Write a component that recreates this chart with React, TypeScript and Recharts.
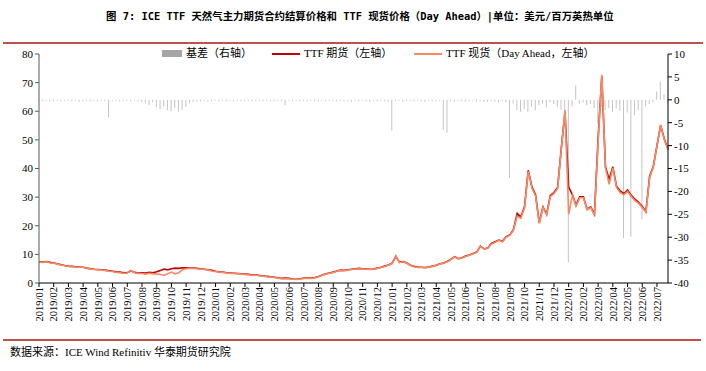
import React from 'react';
import { ComposedChart, Bar, Line, XAxis, YAxis } from 'recharts';

// month tick labels (one tick per month)
const monthLabels = [
  '2019/01', '2019/02', '2019/03', '2019/04', '2019/05', '2019/06', '2019/07', '2019/08', '2019/09', '2019/10', '2019/11', '2019/12',
  '2020/01', '2020/02', '2020/03', '2020/04', '2020/05', '2020/06', '2020/07', '2020/08', '2020/09', '2020/10', '2020/11', '2020/12',
  '2021/01', '2021/02', '2021/03', '2021/04', '2021/05', '2021/06', '2021/07', '2021/08', '2021/09', '2021/10', '2021/11', '2021/12',
  '2022/01', '2022/02', '2022/03', '2022/04', '2022/05', '2022/06', '2022/07',
];

// weekly samples, 4 per month
const futures = [
  7.4, 7.3, 7.5, 7.2, 7.0, 6.7, 6.4, 6.1, 5.9, 5.8, 5.7, 5.6, 5.5, 5.2, 5.0, 4.8, 4.7, 4.6, 4.5, 4.3, 4.1, 3.9, 3.8, 3.6,
  3.6, 4.3, 3.7, 3.5, 3.6, 3.5, 3.7, 3.6, 3.9, 4.4, 4.9, 4.6, 5.0, 5.2, 5.1, 5.3, 5.3, 5.2, 5.3, 5.1, 5.0, 4.8, 4.6, 4.4,
  4.1, 3.9, 3.8, 3.6, 3.5, 3.4, 3.3, 3.2, 3.1, 3.0, 2.8, 2.9, 2.6, 2.5, 2.3, 2.2, 2.0, 1.8, 1.6, 1.7, 1.6, 1.4, 1.3, 1.5,
  1.7, 1.8, 1.7, 1.9, 2.3, 2.8, 3.2, 3.5, 3.8, 4.2, 4.5, 4.4, 4.6, 4.8, 5.0, 5.1, 5.0, 4.9, 4.8, 4.9, 5.2, 5.5, 5.9, 6.3,
  6.9, 9.3, 7.2, 7.5, 7.0, 6.2, 5.8, 5.5, 5.5, 5.4, 5.6, 5.9, 6.2, 6.7, 7.0, 7.5, 8.3, 9.2, 8.5, 8.8, 9.4, 9.8, 10.3, 10.8,
  12.9, 11.9, 12.2, 13.8, 14.4, 15.0, 14.6, 16.2, 16.8, 18.7, 24.3, 23.0, 26.8, 39.4, 33.6, 30.8, 21.0, 26.6, 24.0, 30.6,
  31.6, 33.4, 47.2, 59.6, 33.5, 30.9, 27.2, 30.1, 30.1, 25.8, 26.6, 24.0, 50.5, 72.2, 40.6, 36.2, 40.6, 33.8, 32.2, 31.2,
  32.5, 30.6, 29.3, 28.2, 26.7, 25.0, 37.2, 40.7, 48.0, 55.1, 50.3, 46.8,
];

const spot = [
  7.3, 7.2, 7.4, 7.1, 6.9, 6.6, 6.3, 6.0, 5.8, 5.7, 5.6, 5.5, 5.6, 5.1, 4.9, 4.7, 4.6, 4.5, 4.4, 4.1, 4.0, 3.7, 3.6, 3.4,
  3.5, 4.4, 3.6, 3.3, 3.3, 3.1, 3.4, 3.2, 3.2, 3.0, 2.7, 3.2, 3.8, 3.2, 3.6, 4.6, 5.0, 5.1, 5.2, 5.0, 4.9, 4.7, 4.5, 4.2,
  4.0, 3.8, 3.7, 3.5, 3.4, 3.3, 3.2, 3.1, 3.0, 2.9, 2.7, 2.8, 2.5, 2.4, 2.2, 2.1, 1.9, 1.7, 1.5, 1.5, 1.5, 1.3, 1.2, 1.4,
  1.6, 1.7, 1.6, 1.8, 2.2, 2.7, 3.1, 3.4, 3.7, 4.1, 4.4, 4.3, 4.5, 4.7, 4.9, 5.0, 4.9, 4.8, 4.7, 4.8, 5.1, 5.4, 5.8, 6.2,
  6.8, 9.5, 7.1, 7.4, 6.9, 6.1, 5.7, 5.4, 5.4, 5.3, 5.5, 5.8, 6.1, 6.6, 6.9, 7.4, 8.2, 9.1, 8.4, 8.7, 9.3, 9.7, 10.2, 10.7,
  12.8, 11.8, 12.1, 13.6, 14.2, 14.9, 14.4, 16.0, 16.6, 18.5, 23.4, 22.6, 26.3, 39.0, 33.2, 30.4, 20.8, 26.4, 23.8, 30.2,
  31.2, 33.0, 46.8, 60.4, 24.0, 30.6, 26.8, 29.8, 29.8, 25.6, 26.3, 23.6, 49.0, 72.7, 40.2, 34.5, 40.2, 33.4, 31.6, 30.8,
  32.0, 30.2, 28.8, 27.8, 26.4, 24.7, 36.8, 40.4, 47.8, 55.2, 50.0, 46.5,
];

const basis = [
  -0.2, -0.3, -0.2, -0.3, -0.3, -0.2, -0.3, -0.2, -0.2, -0.3, -0.2, -0.4, -0.3, -0.2, -0.3, -0.2, -0.3, -0.2, -0.3, -3.8, -0.3, -0.2, -0.3, -0.2,
  -0.2, -0.3, -0.2, -0.3, -0.4, -0.8, -1.2, -0.6, -1.6, -2.0, -1.4, -2.2, -2.5, -1.8, -2.6, -2.2, -1.5, -0.8, -0.5, -0.3, -0.3, -0.2, -0.4, -0.3,
  -0.2, -0.3, -0.2, -0.3, -0.2, -0.3, -0.2, -0.3, -0.3, -0.2, -0.3, -0.2, -0.2, -0.3, -0.2, -0.3, -0.3, -0.2, -0.3, -1.2, -0.2, -0.3, -0.2, -0.3,
  -0.2, -0.3, -0.2, -0.3, -0.3, -0.2, -0.3, -0.2, -0.2, -0.3, -0.2, -0.3, -0.3, -0.4, -0.2, -0.3, -0.2, -0.3, -0.4, -0.2, -0.3, -0.2, -0.3, -0.4,
  -6.7, -0.3, -0.2, -0.4, -0.3, -0.2, -0.3, -0.2, -0.3, -0.4, -0.2, -0.3, -0.3, -0.2, -6.6, -7.2, -0.3, -0.4, -0.2, -0.3, -0.4, -0.3, -0.2, -0.4,
  -0.3, -0.5, -0.4, -0.3, -0.4, -0.6, -0.3, -0.5, -17.1, -0.8, -2.2, -2.6, -2.0, -2.7, -1.5, -2.3, -1.2, -0.8, -1.6, -0.6,
  -0.9, -1.5, -2.2, -5.0, -35.4, -1.5, 3.2, -0.8, -0.6, -1.2, -0.9, -1.8, -5.1, -1.5, -2.2, -1.8, -2.6, -1.9, -2.4, -30.2,
  -2.8, -29.9, -3.4, -2.2, -26.1, -1.4, -0.9, -0.5, 1.8, 4.0, 1.2, -0.6,
];

const data = futures.map((f, i) => ({ t: i / 4, futures: f, spot: spot[i], basis: basis[i] }));

const serif = '"Liberation Serif", "Times New Roman", "Noto Sans CJK SC", serif';
const titleFont = '"DejaVu Sans Mono", "Noto Sans CJK SC", sans-serif';

const MonthTick = ({ x, y, payload }: any) => (
  <g transform={`translate(${x},${y - 2})`}>
    <text transform="rotate(-90)" textAnchor="end" dy="0.35em" fontSize={10.5} fontFamily={serif} fill="#000">
      {monthLabels[payload.value]}
    </text>
  </g>
);

export default function App() {
  return (
    <div style={{ position: 'absolute', left: 0, top: 0, width: 706, height: 371, background: '#fff', overflow: 'hidden' }}>
      <div style={{ position: 'absolute', left: 106, top: 8, fontSize: 10.4, fontWeight: 'bold', fontFamily: titleFont, whiteSpace: 'nowrap', lineHeight: '16px', color: '#000' }}>
        图 7: ICE TTF 天然气主力期货合约结算价格和 TTF 现货价格（Day Ahead）|单位：美元/百万英热单位
      </div>
      <div style={{ position: 'absolute', left: 3, top: 42, width: 700, height: 2, background: '#C0504D' }} />

      <div style={{ position: 'absolute', left: 0, top: 0 }}>
        <ComposedChart width={706} height={371} data={data} margin={{ top: 54, right: 0, bottom: 0, left: 0 }}>
          <XAxis
            type="number"
            dataKey="t"
            domain={[0, 42.75]}
            ticks={monthLabels.map((_, i) => i)}
            interval={0}
            height={88}
            tickSize={4}
            tickLine={{ stroke: '#000' }}
            axisLine={{ stroke: '#000' }}
            tick={<MonthTick />}
          />
          <YAxis
            yAxisId="left"
            domain={[0, 80]}
            ticks={[0, 10, 20, 30, 40, 50, 60, 70, 80]}
            width={39}
            tickSize={4}
            axisLine={{ stroke: '#595959' }}
            tickLine={{ stroke: '#595959' }}
            tick={{ fontSize: 11, fill: '#000', fontFamily: serif }}
          />
          <YAxis
            yAxisId="right"
            orientation="right"
            domain={[-40, 10]}
            ticks={[-40, -35, -30, -25, -20, -15, -10, -5, 0, 5, 10]}
            width={38}
            tickSize={4}
            axisLine={{ stroke: '#000' }}
            tickLine={{ stroke: '#000' }}
            tick={{ fontSize: 11, fill: '#000', fontFamily: serif, textAnchor: 'start' }}
          />
          <Bar yAxisId="right" dataKey="basis" fill="#C4C4C4" barSize={1} isAnimationActive={false} />
          <Line yAxisId="left" type="linear" dataKey="futures" stroke="#C00000" strokeWidth={1.6} dot={false} isAnimationActive={false} />
          <Line yAxisId="left" type="linear" dataKey="spot" stroke="#F58B66" strokeWidth={1.6} dot={false} isAnimationActive={false} />
        </ComposedChart>
      </div>

      {/* legend */}
      <div style={{ position: 'absolute', left: 162, top: 50, width: 20, height: 7, background: '#A6A6A6' }} />
      <div style={{ position: 'absolute', left: 186, top: 46, fontSize: 11, lineHeight: '14px', fontFamily: serif, whiteSpace: 'nowrap' }}>基差（右轴）</div>
      <div style={{ position: 'absolute', left: 272, top: 53, width: 28, height: 2, background: '#C00000' }} />
      <div style={{ position: 'absolute', left: 304, top: 46, fontSize: 11, lineHeight: '14px', fontFamily: serif, whiteSpace: 'nowrap' }}>TTF 期货（左轴）</div>
      <div style={{ position: 'absolute', left: 414, top: 53, width: 28, height: 2, background: '#F58B66' }} />
      <div style={{ position: 'absolute', left: 446, top: 46, fontSize: 11, lineHeight: '14px', fontFamily: serif, whiteSpace: 'nowrap' }}>TTF 现货（Day Ahead，左轴）</div>

      <div style={{ position: 'absolute', left: 3, top: 339, width: 698, height: 2, background: '#C0504D' }} />
      <div style={{ position: 'absolute', left: 10, top: 345, fontSize: 11, lineHeight: '14px', fontFamily: serif, whiteSpace: 'nowrap' }}>
        数据来源：ICE Wind Refinitiv 华泰期货研究院
      </div>
    </div>
  );
}
